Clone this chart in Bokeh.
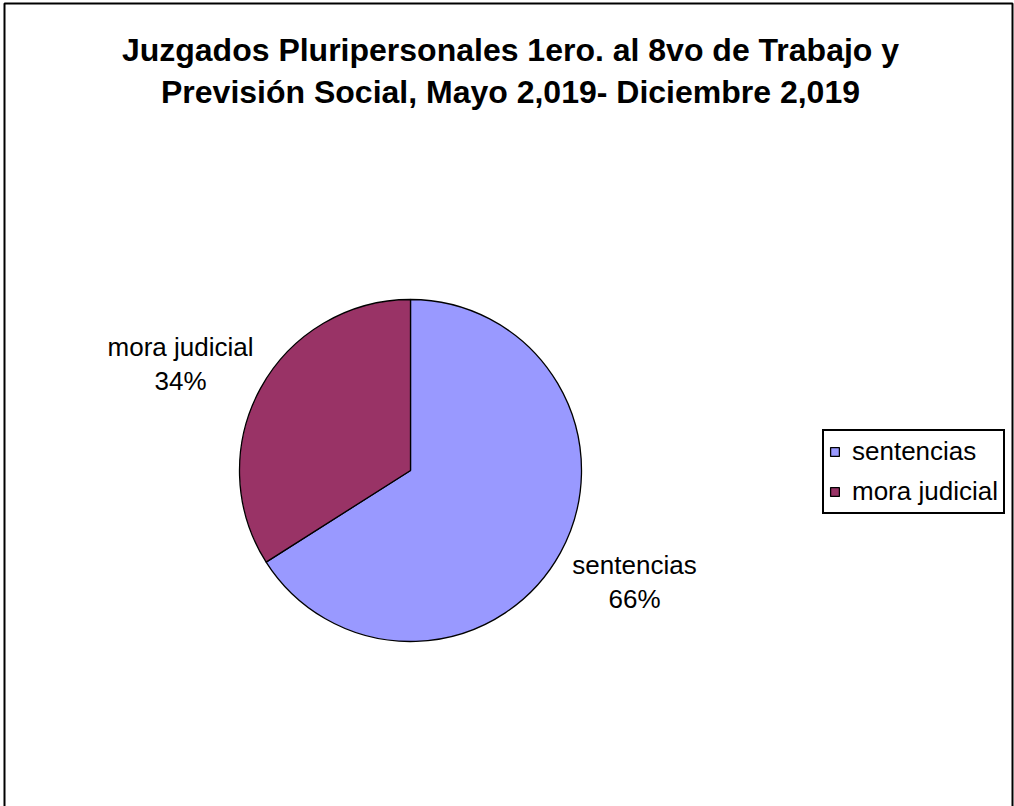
import numpy as np
from bokeh.plotting import figure
from bokeh.models import (Range1d, ColumnDataSource, Legend, LegendItem, Label,
                          PolyAnnotation)
from bokeh.embed import file_html
from bokeh.resources import INLINE

title_lines = ["Juzgados Pluripersonales 1ero. al 8vo de Trabajo y",
               "Previsión Social, Mayo 2,019- Diciembre 2,019"]
categories = ["sentencias", "mora judicial"]
shares = [66, 34]
colors = ["#9999FF", "#993366"]

FONT = "Liberation Sans"
W, H = 1014, 806

p = figure(width=W, height=H, x_range=Range1d(0, W), y_range=Range1d(0, H),
           output_backend="svg", toolbar_location=None, min_border=0)
p.axis.visible = False
p.grid.visible = False
p.outline_line_color = None
p.background_fill_color = "white"
p.border_fill_color = "white"

frac = np.array(shares, dtype=float) / sum(shares)
cum = np.concatenate([[0.0], np.cumsum(frac)])
start = np.pi / 2 - 2 * np.pi * cum[:-1]
end = np.pi / 2 - 2 * np.pi * cum[1:]
src = ColumnDataSource(dict(cat=categories, start=start, end=end, color=colors))

cx, cy, rad = 410, H - 470, 171
wedges = p.wedge(x=cx, y=cy, radius=rad, start_angle="start", end_angle="end",
                 direction="clock", fill_color="color", line_color="black",
                 line_width=1.3, source=src)

# outer chart frame (bottom edge lies below the visible page)
p.add_layout(PolyAnnotation(xs=[4, 4, 1012, 1012], ys=[-60, H - 3, H - 3, -60],
                            fill_alpha=0, line_color="black", line_width=2,
                            line_alpha=1.0))

# title
for i, t in enumerate(title_lines):
    p.add_layout(Label(x=510, y=H - (49 + 42 * i), text=t, text_align="center",
                       text_baseline="alphabetic", text_font=FONT,
                       text_font_size="32px", text_font_style="bold",
                       text_color="black"))

# data labels
label_pos = [(634, 564), (180, 346)]
for (lx, ly), c, s in zip(label_pos, categories, shares):
    p.add_layout(Label(x=lx, y=H - ly, text=c, text_align="center",
                       text_baseline="alphabetic", text_font=FONT,
                       text_font_size="26px", text_color="black"))
    p.add_layout(Label(x=lx, y=H - ly - 34, text=f"{s}%", text_align="center",
                       text_baseline="alphabetic", text_font=FONT,
                       text_font_size="26px", text_color="black"))

legend = Legend(items=[LegendItem(label=c, renderers=[wedges], index=i)
                       for i, c in enumerate(categories)],
                location=(822, H - 514), orientation="vertical",
                label_text_font=FONT, label_text_font_size="26px",
                label_text_color="black",
                glyph_width=11, glyph_height=11, label_standoff=12,
                padding=5, spacing=9, margin=0,
                border_line_color="black", border_line_width=2,
                border_line_alpha=1.0,
                background_fill_color="white", background_fill_alpha=1)
p.add_layout(legend, "center")

open("out.html", "w").write(file_html(p, INLINE))
